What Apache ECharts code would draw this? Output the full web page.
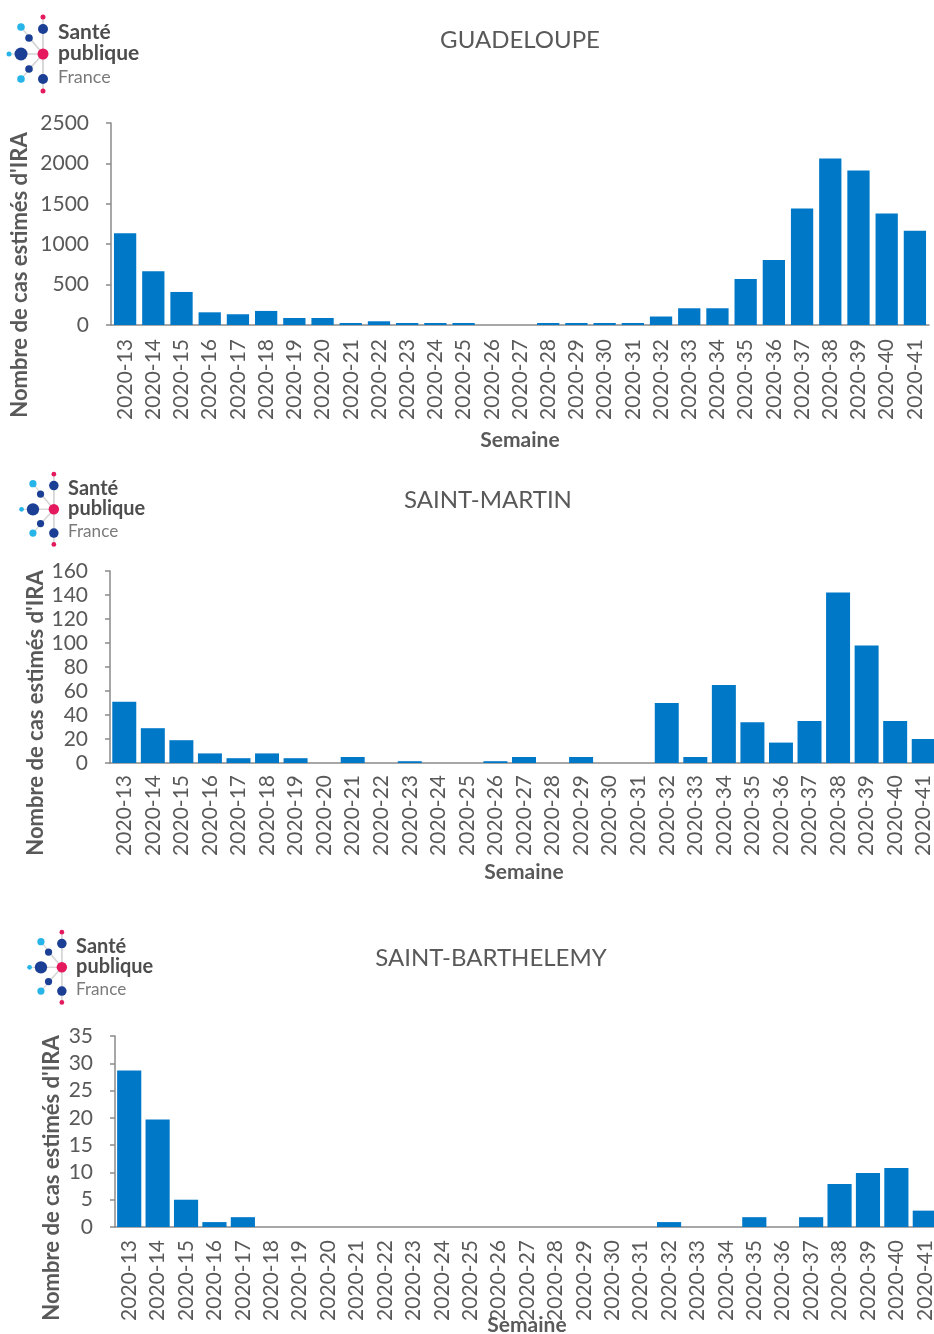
<!DOCTYPE html>
<html>
<head>
<meta charset="utf-8">
<script src="https://cdn.jsdelivr.net/npm/echarts@6/dist/echarts.min.js"></script>
<style>
  html, body { margin: 0; padding: 0; background: #fff; }
  #main { width: 934px; height: 1334px; }
</style>
</head>
<body>
<div id="main"></div>
<script>
// semaines 2020-13 .. 2020-41
var weeks = ['2020-13', '2020-14', '2020-15', '2020-16', '2020-17', '2020-18', '2020-19', '2020-20', '2020-21', '2020-22',
  '2020-23', '2020-24', '2020-25', '2020-26', '2020-27', '2020-28', '2020-29', '2020-30', '2020-31', '2020-32',
  '2020-33', '2020-34', '2020-35', '2020-36', '2020-37', '2020-38', '2020-39', '2020-40', '2020-41']

// nombre de cas estimés d'IRA
var guadeloupe = [1137, 666, 409, 157, 133, 174, 87, 87, 25, 46,
  25, 25, 25, 0, 0, 25, 25, 25, 25, 105,
  207, 207, 570, 806, 1442, 2062, 1913, 1380, 1166]
var saintMartin = [51, 29, 19, 8, 4, 8, 4, 0, 5, 0,
  1.5, 0, 0, 1.5, 5, 0, 5, 0, 0, 50,
  5, 65, 34, 17, 35, 142, 98, 35, 20]
var saintBarthelemy = [28.7, 19.7, 5, 0.9, 1.8, 0, 0, 0, 0, 0,
  0, 0, 0, 0, 0, 0, 0, 0, 0, 0.9,
  0, 0, 1.8, 0, 1.8, 7.9, 9.9, 10.8, 3]

var titles = ['GUADELOUPE', 'SAINT-MARTIN', 'SAINT-BARTHELEMY']
var yMax = [2500, 160, 35]
var yStep = [500, 20, 5]

var textColor = '#595959'
var axisColor = '#8a8a8a'
var barColor = '#0078c8'
var font = 'Lato, "Open Sans", sans-serif'

var grids = [
  { left: 111, top: 123, width: 818, height: 202 },
  { left: 110, top: 571, width: 828, height: 192 },
  { left: 115, top: 1036, width: 824, height: 191 }
]
var nameGaps = [105, 99, 88]
var labelMargins = [14, 12, 13]
var gaps = ['21%', '16%', '15%']

// logo Santé publique France (décor)
function logo(x, y, s) {
  var blue = '#1b3f94', light = '#27b4e9', pink = '#e5195e', line = '#d6d6d6'
  var cx = 43, cy = 54
  var dots = [
    [43, 17, 2.5, pink], [43, 29, 5, blue], [21, 27, 3.8, light], [29, 38, 3.8, blue],
    [21, 54, 6.5, blue], [9, 54, 2.5, light], [29, 69, 3.8, blue], [21, 79, 3.8, light],
    [43, 79, 5, blue], [43, 91, 2.5, pink]
  ]
  var children = []
  children.push({ type: 'line', shape: { x1: 43, y1: 17, x2: 43, y2: 91 }, style: { stroke: line, lineWidth: 1.2 } })
  dots.forEach(function (d) {
    children.push({ type: 'line', shape: { x1: cx, y1: cy, x2: d[0], y2: d[1] }, style: { stroke: line, lineWidth: 1.2 } })
  })
  dots.forEach(function (d) {
    children.push({ type: 'circle', shape: { cx: d[0], cy: d[1], r: d[2] }, style: { fill: d[3] } })
  })
  children.push({ type: 'circle', shape: { cx: cx, cy: cy, r: 5.5 }, style: { fill: pink } })
  children.push({ type: 'text', x: 58, y: 22, style: { text: 'Santé', fill: '#4d4d4d', font: 'bold 21px ' + font } })
  children.push({ type: 'text', x: 58, y: 43, style: { text: 'publique', fill: '#4d4d4d', font: 'bold 21px ' + font } })
  children.push({ type: 'text', x: 58, y: 68, style: { text: 'France', fill: '#7a7a7a', font: '18px ' + font } })
  return { type: 'group', x: x, y: y, scaleX: s, scaleY: s, children: children }
}

function yName(x, y) {
  return {
    type: 'text', x: x, y: y, rotation: Math.PI / 2,
    style: { text: "Nombre de cas estimés d'IRA", fill: textColor, font: 'bold 22px ' + font, align: 'center', verticalAlign: 'middle' }
  }
}

var chart = echarts.init(document.getElementById('main'))
var seriesData = [guadeloupe, saintMartin, saintBarthelemy]

var option = {
  backgroundColor: '#fff',
  animation: false,
  title: [
    { text: titles[0], left: 515, top: 23, textAlign: 'center' },
    { text: titles[1], left: 483, top: 483, textAlign: 'center' },
    { text: titles[2], left: 486, top: 941, textAlign: 'center' }
  ].map(function (t) {
    t.textStyle = { color: textColor, fontSize: 24, fontWeight: 'normal', fontFamily: font }
    return t
  }),
  grid: grids.map(function (g) {
    g.outerBoundsMode = 'none'
    g.containLabel = false
    return g
  }),
  xAxis: grids.map(function (g, i) {
    return {
      type: 'category',
      gridIndex: i,
      data: weeks,
      name: 'Semaine',
      nameLocation: 'middle',
      nameGap: nameGaps[i],
      nameMoveOverlap: false,
      nameTextStyle: { color: textColor, fontSize: 21, fontWeight: 'bold', fontFamily: font },
      axisLine: { lineStyle: { color: axisColor, width: 1.5 } },
      axisTick: { interval: 9, length: 6, lineStyle: { color: axisColor, width: 1.5 } },
      axisLabel: { interval: 0, rotate: 90, margin: labelMargins[i], color: textColor, fontSize: 21, fontFamily: font }
    }
  }),
  yAxis: grids.map(function (g, i) {
    return {
      type: 'value',
      gridIndex: i,
      min: 0,
      max: yMax[i],
      interval: yStep[i],
      splitLine: { show: false },
      axisLine: { show: true, lineStyle: { color: axisColor, width: 1.5 } },
      axisTick: { show: true, length: 5, lineStyle: { color: axisColor, width: 1.5 } },
      axisLabel: {
        margin: 22, color: textColor, fontSize: 21, fontFamily: font,
        formatter: function (v) { return String(v) }
      }
    }
  }),
  series: seriesData.map(function (d, i) {
    return {
      type: 'bar',
      xAxisIndex: i,
      yAxisIndex: i,
      data: d,
      barCategoryGap: gaps[i],
      itemStyle: { color: barColor }
    }
  }),
  graphic: [
    logo(0, 0, 1),
    logo(13, 458, 0.95),
    logo(21, 916, 0.95),
    yName(20, 275),
    yName(36, 713),
    yName(52, 1178)
  ]
}

chart.setOption(option)
</script>
</body>
</html>
